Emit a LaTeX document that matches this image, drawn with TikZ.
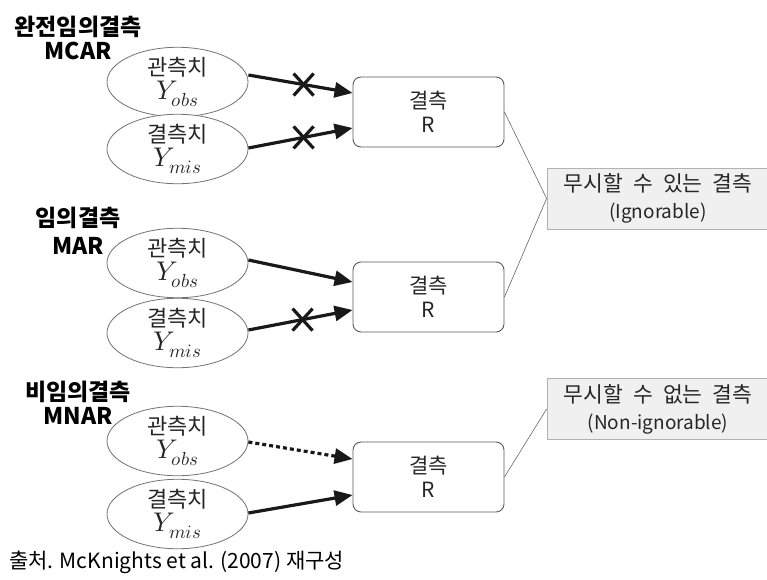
\documentclass[tikz,border=0pt]{standalone}
\usepackage{fontspec}
\usepackage{unicode-math}
\setmainfont{Noto Sans CJK KR}
\setmathfont{Latin Modern Math}
\usetikzlibrary{arrows.meta,calc,shapes.geometric}
\newcommand{\ymath}[1]{{\fontsize{27}{24}\selectfont$Y_{#1}$}}
\newcommand{\wsp}{\hspace{10pt}}
\begin{document}
\begin{tikzpicture}[x=1pt,y=-1pt,
 ell/.style={ellipse, draw=black!55, line width=0.8pt, fill=white, minimum width=141pt, minimum height=56pt, inner sep=0pt, align=center, font=\fontsize{22}{24}\selectfont, text=black!85},
 rbox/.style={draw=black!65, rounded corners=8pt, line width=0.9pt, minimum width=151pt, minimum height=70pt, inner sep=0pt, align=center, font=\fontsize{21}{24}\selectfont, text=black!85},
 gbox/.style={draw=black!30, fill=black!6, line width=0.8pt, minimum width=222pt, minimum height=61pt, inner sep=0pt, align=center, font=\fontsize{21.5}{27}\selectfont, text=black!85},
 arr/.style={line width=3.2pt, -{Triangle[length=18pt,width=15pt]}, black!90},
 xm/.style={line width=3.2pt, black!90},
 lnk/.style={draw=black!60, line width=0.6pt},
 lbl/.style={font=\bfseries\fontsize{23}{24}\selectfont, align=center, inner sep=0pt}
]
\useasboundingbox (0,0) rectangle (767,579);

% group labels
\node[lbl] (l1) at (78,38) {완전임의결측\\MCAR};
\node[lbl] (l2) at (78,231) {임의결측\\[4pt]MAR};
\node[lbl] (l3) at (78,403) {비임의결측\\MNAR};

% ellipses
\node[ell] (o1) at (177.5,82)  {관측치\\\ymath{obs}};
\node[ell] (m1) at (177.5,149) {결측치\\\ymath{mis}};
\node[ell] (o2) at (177.5,263) {관측치\\\ymath{obs}};
\node[ell] (m2) at (177.5,333) {결측치\\\ymath{mis}};
\node[ell] (o3) at (177.5,441) {관측치\\\ymath{obs}};
\node[ell] (m3) at (177.5,514) {결측치\\\ymath{mis}};

% R boxes
\node[rbox] (r1) at (428.5,112) {결측\\R};
\node[rbox] (r2) at (428.5,297) {결측\\R};
\node[rbox] (r3) at (428.5,477) {결측\\R};

% gray boxes
\node[gbox] (ig)  at (658,198.5) {무시할\wsp 수\wsp 있는\wsp 결측\\{\fontsize{19}{27}\selectfont (Ignorable)}};
\node[gbox] (nig) at (658,409)   {무시할\wsp 수\wsp 없는\wsp 결측\\{\fontsize{19}{27}\selectfont (Non-ignorable)}};

% links
\draw[lnk] (r1.east) -- (ig.west);
\draw[lnk] (r2.east) -- (ig.west);
\draw[lnk] (r3.east) -- (nig.west);

% arrows
\draw[arr] ($(o1.east)+(0,-7)$) -- ($(r1.west)+(0,-19)$) coordinate[pos=0.53] (x1);
\draw[arr] ($(m1.east)+(0,-1)$) -- ($(r1.west)+(0,16)$) coordinate[pos=0.53] (x2);
\draw[arr] ($(o2.east)+(0,-3)$) -- ($(r2.west)+(0,-15)$);
\draw[arr] ($(m2.east)+(0,-3)$) -- ($(r2.west)+(0,13)$) coordinate[pos=0.52] (x3);
\draw[arr, dash pattern=on 4pt off 3pt] ($(o3.east)+(0,1)$) -- ($(r3.west)+(0,-18)$);
\draw[arr] ($(m3.east)+(0,-1)$) -- ($(r3.west)+(0,18)$);

% crosses
\foreach \c in {x1,x2,x3}{
  \draw[xm] ($(\c)+(-10,-11)$) -- ($(\c)+(10,11)$);
  \draw[xm] ($(\c)+(-10,11)$) -- ($(\c)+(10,-11)$);
}

% source
\node[anchor=west, font=\fontsize{21}{24}\selectfont, inner sep=0pt] (src) at (9,562) {출처. McKnights et al. (2007) 재구성};
\end{tikzpicture}
\end{document}
